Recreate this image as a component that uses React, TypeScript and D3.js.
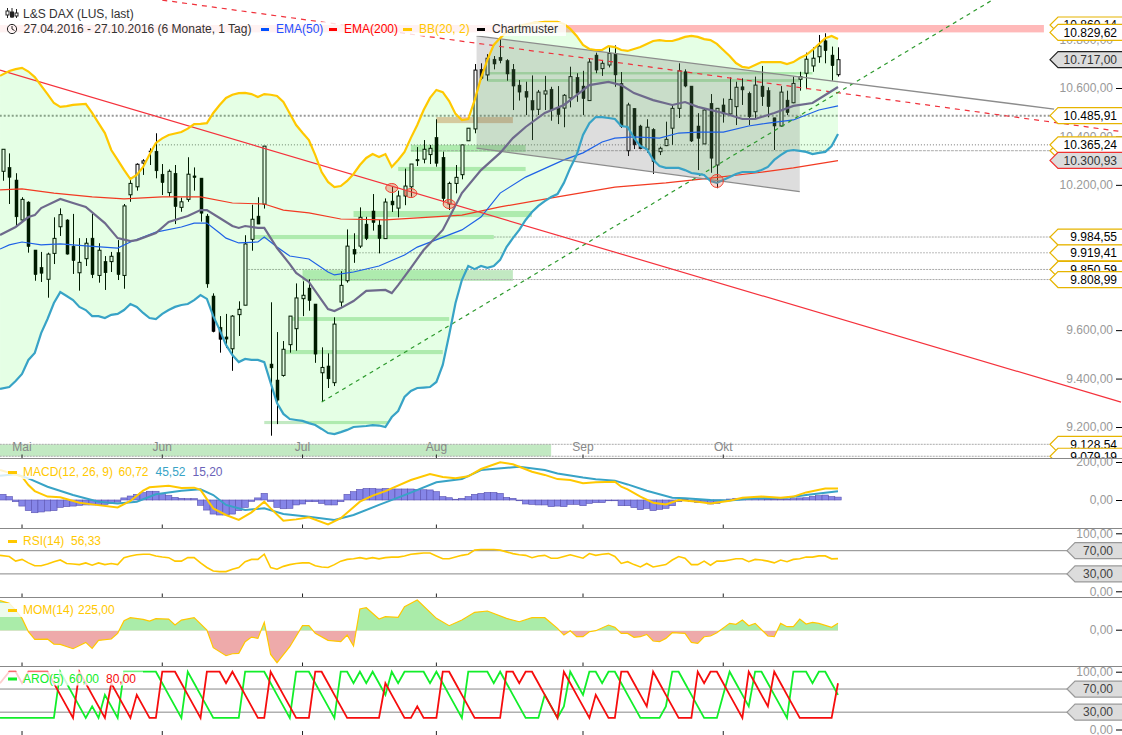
import React from 'react'
import * as d3 from 'd3'

// daily candles, 27.04.2016 - 27.10.2016
const bodyTop = [
  10347,10272,10220,10140,10129,9931,9859,9914,9979,10077,
  10055,9947,9880,9959,9980,9930,9884,9905,9920,10113,
  10206,10285,10299,10340,10339,10244,10256,10248,10130,10244,
  10237,10228,10071,9741,9612,9572,9658,9686,9956,10058,
  10071,10360,9460,9394,9521,9658,9733,9744,9774,9708,
  9446,9452,9625,9785,9947,9934,10066,10038,10092,10034,
  10129,10133,10154,10195,10286,10305,10347,10351,10396,10314,
  10206,10231,10365,10434,10674,10677,10723,10719,10727,10713,
  10677,10612,10586,10548,10583,10588,10595,10520,10570,10647,
  10644,10608,10707,10736,10702,10743,10743,10619,10530,10516,
  10443,10438,10429,10351,10388,10516,10671,10667,10608,10443,
  10509,10537,10516,10530,10553,10603,10605,10578,10612,10608,
  10589,10477,10583,10550,10619,10647,10719,10723,10773,10795,
  10736,10717,
]
const bodyBottom = [
  10256,10231,10068,10055,9945,9829,9835,9810,9917,10027,
  9914,9887,9837,9895,9829,9826,9837,9883,9829,9826,
  10159,10192,10290,10336,10258,10209,10168,10110,10107,10140,
  10230,10083,9791,9594,9562,9563,9523,9664,9703,9975,
  10038,10120,9444,9311,9413,9540,9606,9730,9722,9501,
  9424,9399,9383,9716,9804,9914,9947,9978,10044,9978,
  9978,10117,10104,10154,10192,10299,10306,10325,10289,10143,
  10121,10206,10242,10382,10431,10640,10654,10699,10713,10658,
  10608,10583,10562,10509,10512,10575,10509,10490,10517,10559,
  10578,10556,10548,10674,10680,10695,10654,10440,10341,10365,
  10349,10347,10296,10337,10362,10434,10516,10608,10381,10392,
  10369,10310,10282,10493,10493,10523,10592,10481,10502,10564,
  10523,10443,10443,10498,10539,10636,10661,10691,10729,10754,
  10692,10655,
]
const highs = [
  10347,10330,10248,10149,10132,9931,9923,9920,10066,10103,
  10058,10080,9980,9980,10080,9959,9906,9923,9972,10121,
  10220,10289,10306,10351,10413,10286,10264,10282,10147,10314,
  10272,10228,10080,9752,9658,9667,9662,9719,9992,10118,
  10149,10360,9715,9592,9555,9658,9793,9802,9810,9708,
  9529,9504,9653,9843,10016,10000,10107,10068,10162,10055,
  10144,10195,10176,10267,10286,10356,10385,10365,10471,10337,
  10213,10282,10365,10435,10699,10702,10740,10732,10801,10719,
  10699,10633,10626,10652,10592,10650,10605,10608,10575,10688,
  10661,10671,10721,10746,10716,10768,10776,10666,10539,10517,
  10448,10471,10434,10358,10461,10530,10702,10677,10608,10496,
  10516,10575,10517,10557,10644,10626,10640,10585,10647,10691,
  10603,10477,10608,10589,10647,10667,10746,10768,10819,10826,
  10771,10768,
]
const lows = [
  10217,10121,10030,10048,9920,9804,9799,9734,9873,9989,
  9912,9832,9763,9865,9815,9796,9766,9840,9807,9771,
  10130,10176,10241,10282,10227,10158,10151,10038,10089,10130,
  10176,10048,9775,9591,9507,9526,9432,9576,9703,9928,
  10038,10102,9164,9212,9408,9507,9515,9658,9680,9465,
  9303,9361,9369,9697,9796,9878,9939,9972,10011,9917,
  9978,10088,10066,10116,10151,10278,10289,10286,10275,10124,
  10096,10165,10223,10382,10413,10633,10630,10677,10702,10630,
  10509,10548,10488,10385,10488,10509,10465,10451,10438,10520,
  10543,10488,10548,10661,10650,10685,10605,10435,10319,10348,
  10347,10333,10245,10323,10360,10365,10476,10603,10377,10261,
  10369,10250,10186,10457,10484,10447,10530,10447,10472,10526,
  10479,10344,10440,10488,10537,10589,10595,10667,10704,10702,
  10630,10647,
]
const rising = 'WBBWBBBWWW' + 'BBWWBWBWBW' + 'WWWBBBWBWW' + 'BBBBBBWWWW' + 'BWBBWWWWBB' +
  'WBWWWBWBBB' + 'WBWWWBWWBB' + 'WWWWWBWBBB' + 'BBBBWWBBWW' + 'BBWBWWBBWB' +
  'BWBWWWWBBB' + 'WBWBWWBBWB' + 'BBWBWWWWWB' + 'BW'

const bbUpper = [
  10650,10670,10678,10683,10668,10645,10610,10575,10538,10522,
  10525,10530,10532,10534,10497,10455,10414,10344,10303,10262,
  10224,10241,10274,10325,10373,10392,10406,10412,10418,10432,
  10451,10452,10455,10497,10530,10559,10572,10579,10580,10575,
  10563,10575,10572,10567,10542,10495,10447,10415,10385,10323,
  10253,10212,10191,10195,10216,10245,10282,10311,10327,10315,
  10327,10274,10303,10336,10394,10447,10509,10559,10592,10583,
  10546,10493,10468,10472,10550,10641,10716,10778,10806,10831,
  10845,10856,10863,10868,10870,10873,10873,10873,10864,10844,
  10815,10778,10761,10757,10757,10773,10769,10757,10753,10761,
  10769,10782,10794,10798,10794,10794,10802,10811,10815,10811,
  10802,10798,10782,10757,10732,10703,10687,10683,10695,10707,
  10707,10707,10707,10699,10707,10724,10736,10757,10782,10806,
  10815,10802,
]
const bbLower = [
  9357,9365,9390,9419,9477,9506,9588,9646,9712,9757,
  9741,9724,9696,9683,9658,9658,9650,9663,9667,9683,
  9708,9696,9671,9650,9646,9667,9683,9696,9704,9708,
  9724,9745,9729,9658,9601,9539,9497,9468,9481,9477,
  9477,9468,9382,9299,9254,9233,9229,9225,9216,9208,
  9192,9175,9171,9179,9188,9200,9202,9204,9208,9206,
  9200,9241,9266,9324,9349,9361,9363,9365,9386,9456,
  9580,9712,9807,9865,9852,9865,9857,9865,9890,9943,
  9980,10014,10055,10088,10113,10133,10150,10162,10208,10270,
  10323,10406,10455,10480,10480,10476,10472,10443,10439,10394,
  10360,10348,10303,10278,10270,10270,10270,10261,10249,10245,
  10241,10216,10208,10220,10232,10245,10253,10253,10253,10261,
  10274,10303,10323,10340,10344,10340,10336,10327,10332,10336,
  10360,10410,
]
const bbMiddle = [[0,9993],[2,10026],[4,10067],[5,10075],[6,10104],[9,10142],[11,10125],[13,10109],[16,10042],[18,9980],[20,9968],[21,9972],[24,10001],[26,10047],[29,10071],[31,10096],[32,10096],[34,10063],[36,10030],[37,10022],[38,10030],[40,10022],[41,10022],[43,9939],[45,9873],[46,9836],[48,9799],[50,9724],[51,9687],[52,9679],[53,9691],[55,9720],[57,9762],[60,9766],[61,9753],[62,9786],[64,9857],[66,9931],[69,10014],[72,10166],[75,10261],[78,10332],[80,10393],[82,10439],[85,10497],[88,10530],[90,10571],[92,10612],[95,10625],[97,10612],[99,10579],[102,10550],[105,10530],[107,10542],[109,10522],[113,10497],[116,10472],[118,10472],[121,10497],[124,10526],[127,10538],[129,10571],[131,10604]]
const ema50 = [[0,9935],[1,9952],[3,9964],[6,9952],[9,9956],[13,9948],[18,9939],[20,9964],[24,10005],[28,10026],[30,10042],[32,10042],[34,10001],[35,9980],[37,9960],[40,9964],[41,9985],[43,9943],[45,9906],[48,9894],[51,9840],[52,9828],[55,9840],[59,9865],[63,9910],[65,9943],[72,10014],[75,10067],[78,10166],[82,10232],[88,10303],[91,10332],[94,10377],[96,10393],[99,10398],[103,10393],[106,10414],[109,10418],[113,10418],[117,10443],[120,10455],[124,10468],[128,10509],[131,10526]]
const ema200 = [[0,10179],[3,10183],[8,10166],[14,10150],[19,10142],[25,10150],[31,10150],[36,10125],[41,10121],[44,10096],[48,10084],[53,10059],[60,10055],[67,10067],[72,10075],[78,10109],[87,10150],[96,10191],[104,10208],[111,10228],[118,10249],[124,10270],[131,10300]]

const macdHist = [
  30,18,-9,-32,-56,-67,-63,-58,-56,-39,
  -35,-32,-28,-26,-26,-26,-23,-18,-11,11,
  21,30,39,46,46,35,25,14,9,7,
  7,-28,-53,-74,-79,-79,-74,-56,-39,-7,
  11,35,-7,-39,-46,-44,-26,-21,-9,-9,
  -18,-26,-26,-9,30,44,56,61,61,58,
  61,58,58,58,58,56,54,53,44,18,
  12,4,9,18,30,35,40,40,35,14,
  9,-4,-21,-23,-26,-26,-35,-32,-35,-23,
  -23,-30,-18,-14,-14,-4,-4,-30,-30,-40,
  -51,-44,-56,-49,-44,-30,-9,2,-9,-14,
  -12,-21,-18,-9,5,9,9,7,7,7,
  5,5,5,5,7,11,12,19,23,26,
  18,15.2,
]
const macdLine = [[0,158],[3,123],[4,79],[5,47],[7,18],[9,14],[12,-14],[14,-23],[18,-39],[20,-5],[22,49],[23,67],[26,75],[28,63],[30,65],[31,53],[33,-44],[35,-79],[37,-105],[39,-65],[41,-9],[42,-44],[44,-109],[46,-102],[48,-91],[51,-128],[53,-96],[56,-9],[58,23],[60,47],[64,105],[67,137],[69,121],[71,114],[73,125],[75,163],[78,198],[80,188],[83,149],[85,132],[87,110],[89,105],[91,88],[93,93],[96,96],[97,70],[98,56],[100,18],[102,-14],[104,-23],[106,0],[109,-9],[111,-18],[114,-4],[116,12],[119,18],[122,12],[124,18],[126,40],[129,61],[131,60.72]]
const macdSignal = [[0,128],[2,135],[4,114],[7,70],[11,26],[15,-9],[18,-19],[21,-9],[24,30],[28,49],[31,56],[33,26],[35,-26],[38,-53],[41,-44],[44,-74],[48,-88],[52,-105],[55,-79],[59,-26],[63,26],[68,93],[72,110],[75,158],[81,175],[85,158],[87,140],[91,118],[93,109],[96,102],[98,82],[101,49],[105,12],[107,9],[111,0],[114,-2],[118,9],[123,12],[126,26],[131,45.52]]

const rsi = [
  62,60,52,55,49,44,44,47,51,54,
  48,47,46,49,45,49,46,48,46,58,
  61,63,64,64,61,59,58,52,52,58,
  58,49,41,35,34,34,38,41,51,55,
  55,64,41,38,43,46,48,49,49,44,
  42,41,46,52,55,56,58,56,58,56,
  58,59,59,61,64,65,66,66,61,56,
  56,59,62,64,71,72,72,72,71,68,
  65,63,62,58,61,62,57,57,60,63,
  60,57,65,62,64,65,60,48,51,46,
  42,48,42,44,46,54,60,57,46,46,
  52,45,52,52,54,56,56,51,55,54,
  52,49,54,51,55,56,59,59,61,61,
  56,56.33,
]
const momentum = [[0,918],[1,836],[2,632],[3,377],[4,-31],[5,-265],[7,-255],[8,-408],[9,-418],[11,-551],[13,-357],[14,-541],[15,-296],[17,-255],[18,-82],[19,306],[20,398],[22,347],[23,296],[24,367],[26,357],[27,173],[28,326],[30,398],[32,20],[33,-520],[35,-765],[36,-704],[37,-694],[38,-337],[39,-194],[40,-235],[41,255],[42,-724],[43,-979],[45,-490],[47,153],[48,153],[49,-82],[51,-296],[53,-337],[54,-133],[55,-469],[56,663],[57,704],[59,357],[60,428],[62,408],[63,734],[65,938],[68,377],[70,153],[72,326],[74,561],[76,602],[79,377],[81,275],[83,398],[85,398],[87,71],[88,-133],[89,0],[90,-184],[91,-184],[92,-31],[93,0],[95,173],[96,102],[97,-82],[98,-82],[99,-204],[100,-184],[101,-112],[102,-316],[103,-337],[104,-235],[105,-61],[107,-82],[108,-357],[109,-388],[110,-184],[111,-163],[112,-61],[114,224],[115,194],[116,326],[117,153],[118,224],[120,-163],[121,-184],[122,224],[123,122],[124,122],[125,357],[126,204],[127,255],[128,224],[130,102],[131,225]]

const aroonUp = [
  20,20,20,20,20,20,20,20,20,100,
  80,60,40,20,40,20,60,40,20,100,
  100,100,100,100,100,80,60,40,20,100,
  80,60,40,20,20,20,20,20,100,100,
  100,100,80,60,40,20,100,100,100,80,
  60,40,20,100,100,80,100,80,100,80,
  60,100,80,100,100,100,100,80,100,80,
  60,40,20,100,100,100,100,80,100,80,
  60,40,20,20,20,60,40,20,40,100,
  80,60,100,100,80,100,100,80,60,40,
  20,20,20,20,40,100,100,80,60,40,
  20,20,20,60,100,80,60,40,100,100,
  80,60,40,20,100,100,100,80,100,100,
  80,60,
]
const aroonDown = [
  80,100,100,80,100,100,100,100,80,60,
  40,20,100,80,60,40,20,80,60,40,
  20,60,40,20,20,100,100,100,80,60,
  40,20,100,100,100,80,100,80,60,40,
  20,20,100,80,60,40,20,20,20,100,
  100,80,60,40,20,20,20,20,20,20,
  80,60,40,20,20,40,20,20,20,100,
  100,80,60,40,20,20,20,20,20,100,
  100,80,100,100,80,60,40,20,100,80,
  60,40,20,60,40,20,20,100,100,80,
  60,40,100,80,60,40,20,20,20,100,
  80,100,100,80,60,40,20,100,80,60,
  40,100,80,60,40,20,20,20,20,20,
  20,80,
]

const months = ['Mai', 'Jun', 'Jul', 'Aug', 'Sep', 'Okt']
const monthDays = [3, 25, 47, 68, 91, 113]

const axisTicks = [10800, 10600, 10400, 10200, 10000, 9800, 9600, 9400, 9200]

// [first day, last day, upper price, lower price]
const greenZones = [[64,82,10365,10336],[62,82,10274,10257],[55,83,10092,10067],[39,77,9993,9976],[47,80,9848,9803],[45,70,9654,9638],[44,69,9518,9501],[41,60.5,9225,9212],[-0.5,86,9128.54,9079.19],[76,127,10666,10656],[76,125,10637,10625]]
const redZone = [-0.5,163.3,10860.14,10829.62]
const salmonZone = [68,80,10480,10455]

// [first day, price, dash, width, colour]
const levelLines: [number, number, string, number, string][] = [
  [-0.5,10485.91,'2 2',2,'#999'],[24,10365.24,'1 2',1,'#777'],[64,10341,'3 1',1,'#aaa'],[77,9984.55,'2 1',1,'#aaa'],
  [55,9919.41,'1 2',1,'#777'],[38,9850.59,'2 1',1,'#aaa'],[47,9808.99,'2 1',1,'#aaa'],[-0.5,9128.54,'2 1',1,'#aaa'],[-0.5,9079.19,'2 1',1,'#aaa'],
]
const plainLabels = [10860.14, 10829.62, 10485.91, 10341, 10365.24, 9984.55, 9919.41, 9850.59, 9808.99, 9128.54, 9079.19]
const patternPoints = [[61,10187],[64,10166],[70,10121]]
const bigPatternPoint = [112,10216]

const channelTop = [[74.3,10815],[164.9,10513]]
const channelBottom = [[74.3,10352],[125,10172]]
const channelArea = [[74.3,10815],[125,10646],[125,10172],[74.3,10352]]
const resistance = [[-0.45,10674],[175.4,9303]]
const resistanceDash = [[25,10963],[175.4,10420]]
const supportDash = [[50,9303],[155.2,10963]]

const YELLOW = '#ffc800'
const TEAL = '#38a3c6'
const PURPLE = '#6e6a8c'
const GREY = '#999'
const FONT = '"Liberation Sans", Arial, sans-serif'

const de = d3.formatLocale({ decimal: ',', thousands: '.', grouping: [3], currency: ['', ''] })
const num = de.format(',.2f')

const x = d3.scaleLinear().domain([0, 131]).range([2.9, 838])
// the lines and the band start at the very left edge of the plot
const lineX = (d: number) => x(d === 0 ? -0.45 : d)
const yPrice = d3.scaleLinear().domain([9200, 10600]).range([427, 88])
const yMacd = d3.scaleLinear().domain([0, 200]).range([500, 462])
const yRsi = d3.scaleLinear().domain([0, 100]).range([591.3, 533.3])
const yMom = d3.scaleLinear().domain([0, 1000]).range([630.7, 598])
const yAro = d3.scaleLinear().domain([0, 100]).range([729.5, 671.7])

type Pt = number[]
const pathOf = (pts: Pt[], y: (v: number) => number) =>
  d3.line<Pt>().x(d => lineX(d[0])).y(d => y(d[1]))(pts) ?? ''
const series = (vals: number[]): Pt[] => vals.map((v, i) => [i, v])

const bandPath = d3.area<number>()
  .x((_, i) => lineX(i)).y0((_, i) => yPrice(bbLower[i])).y1(d => yPrice(d))(bbUpper) ?? ''
const momArea = d3.area<Pt>()
  .x(d => lineX(d[0])).y0(yMom(0)).y1(d => yMom(d[1]))(momentum) ?? ''

function Zone({ z, fill }: { z: number[]; fill: string }) {
  return <rect x={x(z[0])} width={x(z[1]) - x(z[0])} y={yPrice(z[2])} height={yPrice(z[3]) - yPrice(z[2])} fill={fill} />
}

function Tag({ y, text, stroke, fill, xTip = 1050, color = '#000', xEnd = 1117 }: { y: number; text: string; stroke: string; fill: string; xTip?: number; color?: string; xEnd?: number }) {
  return (
    <g>
      <path d={`M1124,${y - 8}H${xTip + 8}L${xTip},${y}L${xTip + 8},${y + 8}H1124`} fill={fill} stroke={stroke} strokeWidth={1.2} />
      <text x={xEnd} y={y + 4.3} textAnchor="end" fill={color} fontSize={12}>{text}</text>
    </g>
  )
}

function AxisText({ y, text }: { y: number; text: string }) {
  return (
    <g>
      <text x={1113} y={y + 4.3} textAnchor="end" fill={GREY} fontSize={12}>{text}</text>
      <line x1={1116} x2={1122} y1={y + 0.5} y2={y + 0.5} stroke="#000" />
    </g>
  )
}

function PanelFrame({ bottom }: { bottom: number }) {
  return (
    <g>
      {monthDays.map(d => <line key={d} x1={x(d)} x2={x(d)} y1={bottom - 4} y2={bottom} stroke="#222" />)}
      <line x1={0} x2={1122} y1={bottom} y2={bottom} stroke="#888" strokeWidth={1.2} />
    </g>
  )
}

function Legend({ y, w, dash, items }: { y: number; w: number; dash: string; items: [number, string, string][] }) {
  return (
    <g>
      <rect x={0} y={y - 7} width={w} height={14} fill="#fff" opacity={0.8} />
      <rect x={8} y={y - 1} width={9} height={3} fill={dash} />
      {items.map(([tx, t, c]) => <text key={t} x={tx} y={y + 4.3} fontSize={12} fill={c}>{t}</text>)}
    </g>
  )
}

export default function App() {
  return (
    <svg width={1122} height={735} viewBox="0 0 1122 735" fontFamily={FONT}
      style={{ position: 'absolute', left: 0, top: 0, background: '#fff' }}>
      <defs>
        <clipPath id="main"><rect x={0} y={0} width={1122} height={459} /></clipPath>
        <clipPath id="momUp"><rect x={0} y={597} width={1122} height={yMom(0) - 597} /></clipPath>
        <clipPath id="momDown"><rect x={0} y={yMom(0)} width={1122} height={40} /></clipPath>
      </defs>

      <g clipPath="url(#main)">
        {axisTicks.map(t => <AxisText key={t} y={yPrice(t)} text={num(t)} />)}

        <Zone z={redZone} fill="#ffb9b9" />
        <Zone z={salmonZone} fill="rgba(205,90,30,0.35)" />
        {greenZones.map((z, i) => <Zone key={i} z={z} fill="rgba(0,165,0,0.24)" />)}

        {levelLines.map(([d, v, dash, w, c], i) => (
          <line key={i} x1={x(d)} x2={1052} y1={yPrice(v)} y2={yPrice(v)} stroke={c} strokeWidth={w} strokeDasharray={dash} />
        ))}

        {highs.map((h, i) => {
          const up = rising[i] === 'W'
          const cx = Math.round(x(i)) + 0.5
          return (
            <g key={i}>
              <line x1={cx} x2={cx} y1={yPrice(h)} y2={yPrice(lows[i])} stroke="#000" strokeWidth={1} />
              <rect x={cx - 1.5} width={3} y={yPrice(bodyTop[i])} height={Math.max(1, yPrice(bodyBottom[i]) - yPrice(bodyTop[i]))}
                fill={up ? '#fff' : '#000'} stroke="#000" strokeWidth={up ? 1 : 0.5} />
            </g>
          )
        })}

        <path d={bandPath} fill="rgba(0,255,0,0.1)" />
        <path d={pathOf(channelArea, yPrice) + 'Z'} fill="rgba(110,110,110,0.23)" />

        <path d={pathOf(ema200, yPrice)} fill="none" stroke="#f23a22" strokeWidth={1.2} />
        <path d={pathOf(ema50, yPrice)} fill="none" stroke="#1f62e6" strokeWidth={1.2} />
        <path d={pathOf(resistance, yPrice)} fill="none" stroke="#f5323c" strokeWidth={1.2} />
        <path d={pathOf(resistanceDash, yPrice)} fill="none" stroke="#f0323c" strokeWidth={1.2} strokeDasharray="5 5" />
        <path d={pathOf(supportDash, yPrice)} fill="none" stroke="#2e9a2e" strokeWidth={1.2} strokeDasharray="4 4" />
        <path d={pathOf(channelTop, yPrice)} fill="none" stroke="#8c8c8c" strokeWidth={1.3} />
        <path d={pathOf(channelBottom, yPrice)} fill="none" stroke="#8c8c8c" strokeWidth={1.3} />

        <path d={pathOf(bbMiddle, yPrice)} fill="none" stroke={PURPLE} strokeWidth={2.2} />
        <path d={pathOf(series(bbUpper), yPrice)} fill="none" stroke={YELLOW} strokeWidth={2.2} />
        <path d={pathOf(series(bbLower), yPrice)} fill="none" stroke={TEAL} strokeWidth={2.2} />

        {patternPoints.map(([d, v]) => (
          <ellipse key={d} cx={x(d)} cy={yPrice(v)} rx={6} ry={4.5} fill="rgba(235,90,60,0.35)" stroke="#f04030" />
        ))}
        <circle cx={x(bigPatternPoint[0])} cy={yPrice(bigPatternPoint[1])} r={6.5} fill="rgba(235,90,60,0.25)" stroke="#f04030" />

        {months.map((m, i) => (
          <text key={m} x={x(monthDays[i])} y={451} textAnchor="middle" fontSize={12} fill="#888">{m}</text>
        ))}

        <Tag y={yPrice(10717)} text={num(10717)} stroke="#222" fill="#dcdcdc" color="#333" />
        {plainLabels.map(v => (
          <Tag key={v} y={yPrice(v)} text={v === 10341 ? '' : num(v)} stroke="#e6b400" fill="#fff" />
        ))}
        <Tag y={yPrice(10300.93)} text={num(10300.93)} stroke="#f03030" fill="#dcdcdc" color="#333" />
      </g>
      <PanelFrame bottom={458.5} />

      {/* title and legend */}
      <g stroke="#222" fill="none">
        <path d="M7.5,8V18M12,8V18M16.5,9V18" />
        <rect x={6} y={11} width={3} height={4} fill="#fff" />
        <rect x={10.5} y={12} width={3} height={5} fill="#222" />
        <rect x={15} y={13} width={3} height={3} fill="#fff" />
      </g>
      <text x={23} y={17.5} fontSize={12} fill="#333">L&amp;S DAX (LUS, last)</text>
      <rect x={0} y={22} width={566} height={14} fill="#fff" opacity={0.82} />
      <circle cx={12} cy={29} r={4.6} fill="none" stroke="#222" />
      <path d="M12,26V29L14.5,30.5" fill="none" stroke="#222" />
      <text x={23.5} y={33.3} fontSize={12} fill="#333">27.04.2016 - 27.10.2016 (6 Monate, 1 Tag)</text>
      <rect x={261} y={28} width={8} height={3} fill="#0050ff" />
      <text x={276} y={33.3} fontSize={12} fill="#1f50ff">EMA(50)</text>
      <rect x={329} y={28} width={8} height={3} fill="#f00" />
      <text x={344} y={33.3} fontSize={12} fill="#f00">EMA(200)</text>
      <rect x={403} y={28} width={9} height={3} fill={YELLOW} />
      <text x={419} y={33.3} fontSize={12} fill={YELLOW}>BB(20, 2)</text>
      <rect x={477} y={28} width={8} height={3} fill="#000" />
      <text x={492} y={33.3} fontSize={12} fill="#333">Chartmuster</text>

      {/* MACD */}
      <AxisText y={yMacd(200)} text={num(200)} />
      <AxisText y={yMacd(0)} text={num(0)} />
      {macdHist.map((v, i) => (
        <rect key={i} x={x(i) - 3.2} width={6.4} y={Math.min(yMacd(v), yMacd(0))} height={Math.abs(yMacd(v) - yMacd(0))}
          fill="#8585e8" stroke="#5a52b0" strokeWidth={0.6} />
      ))}
      <path d={pathOf(macdSignal, yMacd)} fill="none" stroke={TEAL} strokeWidth={2} />
      <path d={pathOf(macdLine, yMacd)} fill="none" stroke={YELLOW} strokeWidth={2} />
      <Legend y={472} w={226} dash={YELLOW} items={[[23,'MACD(12, 26, 9)',YELLOW],[118.5,num(60.72),YELLOW],[155.5,num(45.52),TEAL],[192.5,num(15.2),'#6a62b8']]} />
      <PanelFrame bottom={528.5} />

      {/* RSI */}
      <line x1={0} x2={1070} y1={yRsi(70)} y2={yRsi(70)} stroke="#888" />
      <line x1={0} x2={1070} y1={yRsi(30)} y2={yRsi(30)} stroke="#888" />
      <path d={pathOf(series(rsi), yRsi)} fill="none" stroke={YELLOW} strokeWidth={1.6} />
      <AxisText y={yRsi(100)} text={num(100)} />
      <AxisText y={yRsi(0)} text={num(0)} />
      <Tag y={yRsi(70)} text={num(70)} stroke="#999" fill="#dcdcdc" xTip={1067} color="#444" xEnd={1113} />
      <Tag y={yRsi(30)} text={num(30)} stroke="#999" fill="#dcdcdc" xTip={1067} color="#444" xEnd={1113} />
      <Legend y={541} w={108} dash={YELLOW} items={[[23,'RSI(14)',YELLOW],[71,num(56.33),YELLOW]]} />
      <PanelFrame bottom={597.5} />

      {/* MOM */}
      <path d={momArea} fill="#aaeca9" clipPath="url(#momUp)" />
      <path d={momArea} fill="#eeaaaa" clipPath="url(#momDown)" />
      <path d={pathOf(momentum, yMom)} fill="none" stroke={YELLOW} strokeWidth={1.2} />
      <AxisText y={yMom(0) - 1} text={num(0)} />
      <Legend y={610} w={118} dash={YELLOW} items={[[23,'MOM(14)',YELLOW],[78,num(225),YELLOW]]} />
      <PanelFrame bottom={666.5} />

      {/* ARO */}
      <line x1={0} x2={1070} y1={yAro(70)} y2={yAro(70)} stroke="#888" />
      <line x1={0} x2={1070} y1={yAro(30)} y2={yAro(30)} stroke="#888" />
      <path d={pathOf(series(aroonUp), yAro)} fill="none" stroke="#12ee2a" strokeWidth={1.8} />
      <path d={pathOf(series(aroonDown), yAro)} fill="none" stroke="#f60d0d" strokeWidth={1.8} />
      <AxisText y={yAro(100)} text={num(100)} />
      <AxisText y={yAro(0)} text={num(0)} />
      <Tag y={yAro(70)} text={num(70)} stroke="#999" fill="#dcdcdc" xTip={1067} color="#444" xEnd={1113} />
      <Tag y={yAro(30)} text={num(30)} stroke="#999" fill="#dcdcdc" xTip={1067} color="#444" xEnd={1113} />
      <Legend y={678.5} w={143} dash="#12ee2a" items={[[23,'ARO(5)','#12ee2a'],[69,num(60),'#12ee2a'],[106,num(80),'#f60d0d']]} />
      {monthDays.map(d => <line key={d} x1={x(d)} x2={x(d)} y1={731} y2={735} stroke="#222" />)}
    </svg>
  )
}
